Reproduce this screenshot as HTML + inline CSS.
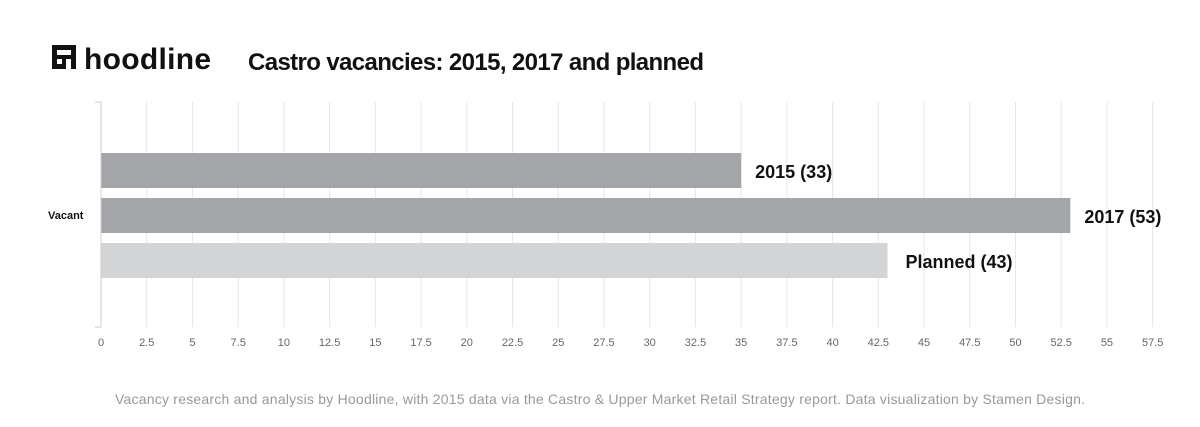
<!DOCTYPE html>
<html><head><meta charset="utf-8"><style>
body{margin:0;width:1200px;height:422px;background:#fff;overflow:hidden;font-family:"Liberation Sans",sans-serif;}
</style></head><body>
<svg width="1200" height="422" xmlns="http://www.w3.org/2000/svg">
<g>
<rect x="52" y="45" width="24" height="24" fill="#111"/>
<rect x="57" y="50" width="14" height="5" fill="#fff"/>
<rect x="57" y="59" width="5" height="5" fill="#fff"/>
<rect x="66" y="59" width="5" height="10" fill="#fff"/>
<text x="84" y="69" font-size="30" font-weight="bold" fill="#111" textLength="127">hoodline</text>
</g>
<text x="248" y="70" font-size="24" font-weight="bold" fill="#111" textLength="456">Castro vacancies: 2015, 2017 and planned</text>
<g id="grid"></g>
<g id="bars"></g>
<g id="ticks"></g>
<text x="48" y="219" font-size="11" font-weight="bold" fill="#111">Vacant</text>
<text x="600" y="404" font-size="14" fill="#999" text-anchor="middle" textLength="970">Vacancy research and analysis by Hoodline, with 2015 data via the Castro &amp; Upper Market Retail Strategy report. Data visualization by Stamen Design.</text>
</svg>
<script>
const seriesNames=["2015","2017","Planned"];
const seriesValues=[35,53,43];
const printedValues=["33","53","43"];
const seriesColors=["#a3a5a9","#a3a5a9","#d3d4d6"];
const tickValues=[0,2.5,5,7.5,10,12.5,15,17.5,20,22.5,25,27.5,30,32.5,35,37.5,40,42.5,45,47.5,50,52.5,55,57.5];
const NS="http://www.w3.org/2000/svg";
const x0=101,pxPer=18.29;
function xs(v){return x0+v*pxPer;}
function mk(t,a,p){const e=document.createElementNS(NS,t);for(const k in a)e.setAttribute(k,a[k]);p.appendChild(e);return e;}
const grid=document.getElementById('grid'),ticks=document.getElementById('ticks'),bars=document.getElementById('bars');
tickValues.forEach(v=>{
 if(v>0){const l=mk('line',{x1:xs(v),x2:xs(v),y1:102,y2:327,stroke:'#e6e6e6','stroke-width':1},grid);
 
 }
 const t=mk('text',{x:xs(v),y:346,'font-size':11,fill:'#666','text-anchor':'middle'},ticks);
 t.textContent=String(v);
 
 
});
const ax=mk('path',{d:'M95 102H101V327H95',fill:'none',stroke:'#ccc','stroke-width':1},ticks);


seriesValues.forEach((v,i)=>{
 const y=153+i*45;
 const r=mk('rect',{x:x0,y:y,width:xs(v)-x0,height:35,fill:seriesColors[i]},bars);
 
 
 const t=mk('text',{x:xs(v)+(i==2?18:14),y:y+25,'font-size':18,'font-weight':'bold',fill:'#111'},bars);
 t.textContent=seriesNames[i]+' ('+printedValues[i]+')';
 
 
});
</script>
</body></html>
